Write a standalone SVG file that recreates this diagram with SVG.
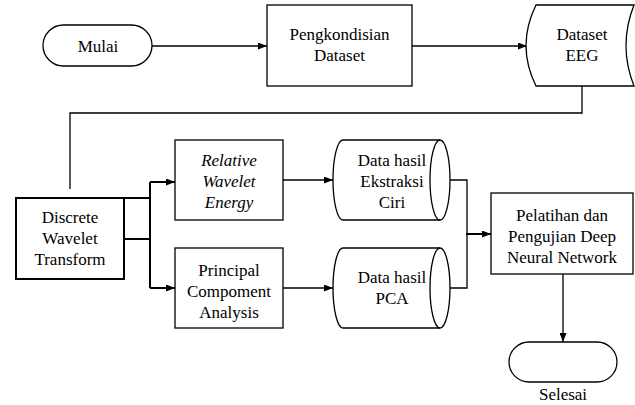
<svg xmlns="http://www.w3.org/2000/svg" width="635" height="405" viewBox="0 0 635 405">
<style>
  .s{fill:#fff;stroke:#000;stroke-width:1.3}
  .b{fill:#fff;stroke:#000;stroke-width:2}
  .l{fill:none;stroke:#000;stroke-width:1.3}
  .lb{fill:none;stroke:#000;stroke-width:2}
  .t{font-size:17px;fill:#000;text-anchor:middle}
  .i{font-style:italic}
</style>
<defs>
  <marker id="ah" markerUnits="userSpaceOnUse" markerWidth="9" markerHeight="7" refX="9" refY="3.5" orient="auto">
    <path d="M0,0 L9,3.5 L0,7 z" fill="#000"/>
  </marker>
</defs>
<rect width="635" height="405" fill="#fff"/>
<g id="connectors">
  <line class="l" x1="152" y1="46" x2="267" y2="46" marker-end="url(#ah)"/>
  <line class="l" x1="412" y1="46" x2="527" y2="46" marker-end="url(#ah)"/>
  <polyline class="l" points="582,86 582,113 70,113 70,189"/>
  <line class="lb" x1="124" y1="198" x2="150" y2="198"/>
  <line class="lb" x1="124" y1="239" x2="150" y2="239"/>
  <line class="lb" x1="150" y1="182" x2="150" y2="288"/>
  <line class="lb" x1="150" y1="182" x2="175" y2="182" marker-end="url(#ah)"/>
  <line class="lb" x1="150" y1="288" x2="175" y2="288" marker-end="url(#ah)"/>
  <line class="l" x1="283" y1="180" x2="333" y2="180" marker-end="url(#ah)"/>
  <line class="l" x1="283" y1="288" x2="333" y2="288" marker-end="url(#ah)"/>
  <polyline class="l" points="440,180 467,180 467,288 440,288"/>
  <line class="lb" x1="466" y1="234" x2="491" y2="234" marker-end="url(#ah)"/>
  <line class="l" x1="563" y1="274" x2="563" y2="342" marker-end="url(#ah)"/>
</g>
<g font-family="Liberation Serif, Tinos, Times New Roman, Noto Serif, FreeSerif, DejaVu Serif, serif">
<g id="mulai">
  <rect class="s" x="43" y="25" width="109" height="41" rx="20.5" ry="20.5"/>
  <text class="t" x="98" y="52">Mulai</text>
</g>
<g id="pengkondisian">
  <rect class="s" x="267" y="5" width="145" height="81"/>
  <text class="t" x="339.5" y="40">Pengkondisian</text>
  <text class="t" x="339.5" y="61">Dataset</text>
</g>
<g id="dataset-eeg">
  <path class="s" d="M536,5 L634,5 Q618,45.5 634,86 L536,86 Q516,45.5 536,5 Z"/>
  <text class="t" x="582" y="40">Dataset</text>
  <text class="t" x="582" y="61">EEG</text>
</g>
<g id="dwt">
  <rect class="b" x="16" y="198" width="108" height="81"/>
  <text class="t" x="70" y="223">Discrete</text>
  <text class="t" x="70" y="244">Wavelet</text>
  <text class="t" x="70" y="265">Transform</text>
</g>
<g id="rwe">
  <rect class="s" x="175" y="140" width="108" height="80"/>
  <text class="t i" x="229" y="166">Relative</text>
  <text class="t i" x="229" y="187">Wavelet</text>
  <text class="t i" x="229" y="208">Energy</text>
</g>
<g id="pca">
  <rect class="s" x="175" y="248" width="108" height="80"/>
  <text class="t" x="229" y="276">Principal</text>
  <text class="t" x="229" y="297">Compoment</text>
  <text class="t" x="229" y="318">Analysis</text>
</g>
<g id="data-ekstraksi">
  <path class="s" d="M343,140 L440,140 A10,40 0 0 1 440,220 L343,220 A10,40 0 0 1 343,140 Z"/>
  <path class="l" d="M440,140 A10,40 0 0 0 440,220"/>
  <text class="t" x="392" y="166">Data hasil</text>
  <text class="t" x="392" y="187">Ekstraksi</text>
  <text class="t" x="392" y="208">Ciri</text>
</g>
<g id="data-pca">
  <path class="s" d="M343,248 L440,248 A10,40 0 0 1 440,328 L343,328 A10,40 0 0 1 343,248 Z"/>
  <path class="l" d="M440,248 A10,40 0 0 0 440,328"/>
  <text class="t" x="392" y="283">Data hasil</text>
  <text class="t" x="392" y="304">PCA</text>
</g>
<g id="pelatihan">
  <rect class="s" x="491" y="193" width="142" height="81"/>
  <text class="t" x="562" y="221">Pelatihan dan</text>
  <text class="t" x="562" y="242">Pengujian Deep</text>
  <text class="t" x="562" y="263">Neural Network</text>
</g>
<g id="selesai">
  <rect class="s" x="509" y="342" width="108" height="40" rx="20" ry="20"/>
  <text class="t" x="563" y="400">Selesai</text>
</g>
</g>
</svg>
